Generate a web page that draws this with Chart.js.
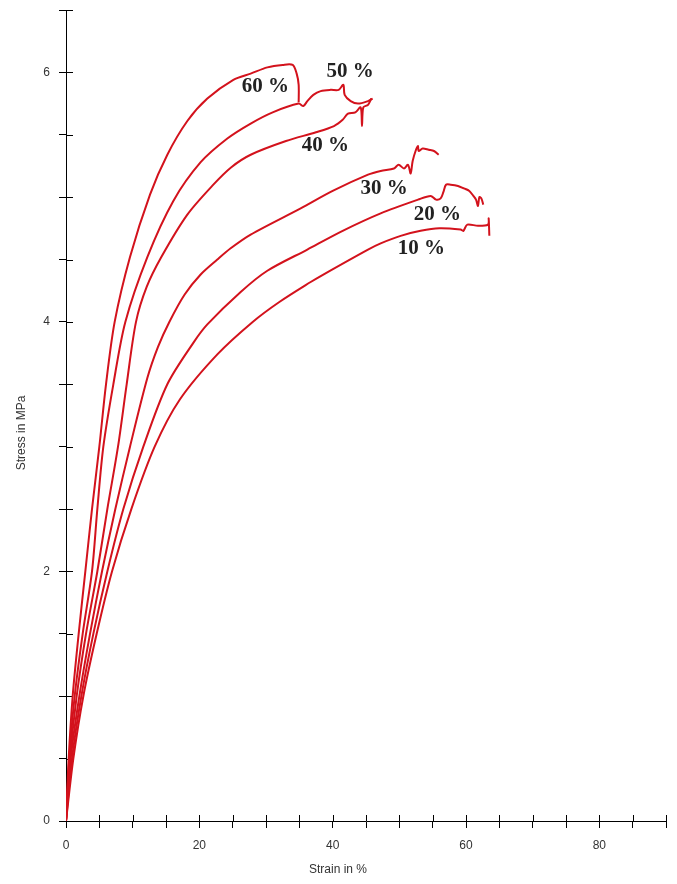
<!DOCTYPE html>
<html>
<head>
<meta charset="utf-8">
<script src="https://cdn.jsdelivr.net/npm/chart.js@4.4.1/dist/chart.umd.min.js"></script>
<style>
  body { margin: 0; background: #fff; }
  canvas { display: block; }
</style>
</head>
<body>
<canvas id="chart" width="677" height="884"></canvas>
<script>
// Data: [strain %, stress MPa]
const curve60 = [[0,0],[0.4,0.5],[1.0,1.0],[1.9,1.5],[2.9,2.0],[3.9,2.5],[5.0,3.0],[6.0,3.5],[7.3,4.0],[9.6,4.52],[12.6,5.02],[15.2,5.34],[18.2,5.61],[21.2,5.79],[25.1,5.94],[27.7,5.99],[30.2,6.04],[32.5,6.06],[34.0,6.06],[34.6,5.99],[34.9,5.9],[34.9,5.76]];
const curve50 = [[0,0],[0.5,0.5],[1.3,1.0],[2.5,1.5],[3.9,2.0],[4.7,2.5],[5.6,3.0],[7.1,3.5],[8.9,4.0],[12.2,4.52],[16.1,4.97],[20.2,5.28],[24.2,5.47],[27.7,5.59],[31.0,5.68],[34.9,5.75],[35.6,5.73],[36.2,5.77],[37.1,5.82],[38.2,5.85],[39.7,5.86],[40.9,5.86],[41.6,5.9],[41.8,5.82],[42.7,5.77],[43.8,5.75],[45.3,5.77],[46.0,5.79]];
const curve40 = [[0,0],[0.6,0.5],[1.6,1.0],[3.0,1.5],[4.7,2.0],[6.2,2.5],[7.8,3.0],[9.1,3.5],[10.5,4.0],[12.1,4.28],[14.3,4.52],[18.2,4.86],[22.1,5.10],[24.8,5.24],[27.7,5.34],[33.0,5.45],[37.5,5.52],[40.2,5.57],[41.5,5.62],[42.3,5.67],[43.4,5.68],[44.2,5.72],[44.4,5.57],[44.6,5.72],[45.3,5.74],[45.8,5.79]];
const curve30 = [[0,0],[0.7,0.5],[2.0,1.0],[3.6,1.5],[5.4,2.0],[7.4,2.5],[9.6,3.0],[12.2,3.55],[13.8,3.8],[15.5,4.0],[17.8,4.22],[20.2,4.38],[22.7,4.50],[24.7,4.59],[27.7,4.70],[35.2,4.91],[40.0,5.05],[45.3,5.18],[47.2,5.21],[49.2,5.23],[49.9,5.26],[50.7,5.23],[51.3,5.26],[51.7,5.19],[52.0,5.29],[52.5,5.38],[52.8,5.41],[52.9,5.37],[53.5,5.39],[54.4,5.38],[55.2,5.37],[55.9,5.34]];
const curve20 = [[0,0],[0.9,0.5],[2.3,1.0],[4.1,1.5],[6.2,2.0],[8.6,2.5],[11.6,3.0],[15.2,3.5],[19.2,3.84],[21.2,3.98],[26.2,4.24],[30.2,4.41],[36.2,4.58],[41.5,4.73],[47.2,4.87],[52.8,4.98],[54.7,5.01],[55.5,4.98],[56.2,4.99],[56.6,5.04],[57.0,5.10],[57.7,5.10],[58.8,5.09],[59.7,5.07],[60.5,5.05],[61.1,5.01],[61.5,4.98],[61.8,4.93],[62.0,5.0],[62.3,4.99],[62.6,4.94]];
const curve10 = [[0,0],[1.1,0.5],[2.6,1.0],[4.6,1.5],[6.9,2.0],[9.8,2.5],[13.3,3.0],[17.1,3.38],[22.7,3.74],[28.0,4.0],[32.0,4.16],[36.7,4.32],[38.6,4.38],[45.3,4.58],[47.2,4.63],[50.2,4.69],[53.2,4.73],[56.0,4.75],[59.2,4.74],[59.6,4.73],[60.2,4.78],[61.8,4.77],[63.3,4.78],[63.4,4.83],[63.5,4.69]];

const curveNames = ['60 %', '50 %', '40 %', '30 %', '20 %', '10 %'];
// where each name sits, in data units
const nameStrain = [29.9, 42.6, 38.9, 47.7, 55.7, 53.3];
const nameStress = [5.89, 6.01, 5.41, 5.07, 4.86, 4.59];

const xMax = 90;
const yMax = 6.5;

function toPoints(curve) {
    return curve.map(p => ({x: p[0], y: p[1]}));
}

const curves = [curve60, curve50, curve40, curve30, curve20, curve10];

// ticks that cross the axis lines + curve names + axis titles
const extras = {
    id: 'extras',
    beforeDatasetsDraw(chart) {
        const {ctx, chartArea, scales} = chart;
        ctx.save();
        ctx.strokeStyle = '#000';
        ctx.lineWidth = 1;
        scales.x.ticks.forEach(t => {
            let px = Math.round(scales.x.getPixelForValue(t.value)) + 0.5;
            ctx.beginPath();
            ctx.moveTo(px, chartArea.bottom);
            ctx.lineTo(px, chartArea.bottom - 6);
            ctx.stroke();
        });
        scales.y.ticks.forEach(t => {
            let py = Math.round(scales.y.getPixelForValue(t.value)) + 0.5;
            ctx.beginPath();
            ctx.moveTo(chartArea.left, py);
            ctx.lineTo(chartArea.left + 7, py);
            ctx.stroke();
        });
        ctx.restore();
    },
    afterDatasetsDraw(chart) {
        const {ctx, scales} = chart;
        ctx.save();
        ctx.fillStyle = '#222';
        ctx.font = 'bold 21px "Liberation Serif", "Times New Roman", serif';
        ctx.textAlign = 'center';
        ctx.textBaseline = 'middle';
        curveNames.forEach((name, i) => {
            ctx.fillText(name, scales.x.getPixelForValue(nameStrain[i]), scales.y.getPixelForValue(nameStress[i]));
        });

        ctx.fillStyle = '#333';
        ctx.font = '12px "Liberation Sans", Arial, sans-serif';
        ctx.fillText('Strain in %', 338, 870);
        ctx.translate(22, 433);
        ctx.rotate(-Math.PI / 2);
        ctx.fillText('Stress in MPa', 0, 0);
        ctx.restore();
    }
};

const ctx = document.getElementById('chart').getContext('2d');
const myChart = new Chart(ctx, {
    type: 'scatter',
    data: {
        datasets: curves.map((c, i) => ({
            label: curveNames[i],
            data: toPoints(c),
            showLine: true,
            borderColor: '#d3121c',
            borderWidth: 2,
            pointRadius: 0,
            tension: 0.3,
            fill: false
        }))
    },
    options: {
        responsive: false,
        animation: false,
        layout: {
            padding: {left: 0, right: 11, top: 10, bottom: 0}
        },
        plugins: {
            legend: false,
            tooltip: {enabled: false}
        },
        scales: {
            x: {
                type: 'linear',
                min: 0,
                max: xMax,
                afterFit: scale => {
                    scale.height = 63;
                    scale.paddingLeft = 0;
                    scale.paddingRight = 0;
                },
                border: {display: true, color: '#000', width: 1},
                grid: {
                    drawOnChartArea: false,
                    color: '#000',
                    tickLength: 7
                },
                ticks: {
                    stepSize: 5,
                    autoSkip: false,
                    maxRotation: 0,
                    padding: 10,
                    color: '#333',
                    font: {family: '"Liberation Sans", Arial, sans-serif', size: 12},
                    callback: v => (v % 20 === 0 && v < xMax ? v : '')
                }
            },
            y: {
                type: 'linear',
                min: 0,
                max: yMax,
                afterFit: scale => {
                    scale.width = 66;
                    scale.paddingTop = 0;
                    scale.paddingBottom = 0;
                },
                border: {display: true, color: '#000', width: 1},
                grid: {
                    drawOnChartArea: false,
                    color: '#000',
                    tickLength: 7
                },
                ticks: {
                    stepSize: 0.5,
                    autoSkip: false,
                    padding: 9,
                    color: '#333',
                    font: {family: '"Liberation Sans", Arial, sans-serif', size: 12},
                    callback: v => (v % 2 === 0 ? v : '')
                }
            }
        }
    },
    plugins: [extras]
});
</script>
</body>
</html>
